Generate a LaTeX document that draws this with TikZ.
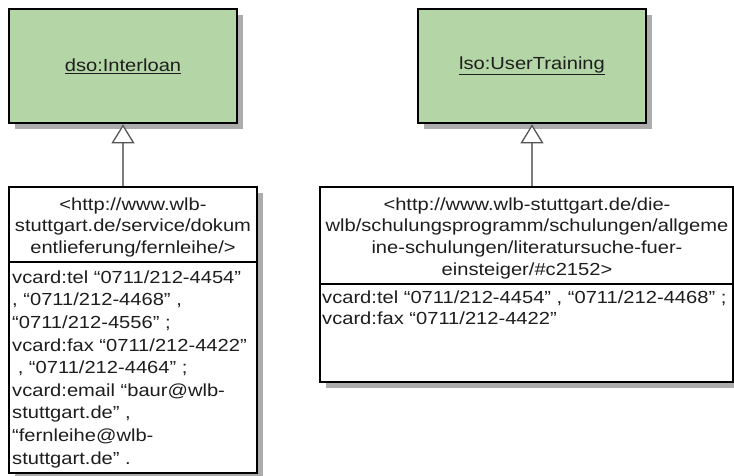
\documentclass[tikz,border=0pt]{standalone}
\usepackage{fontspec}
\setmainfont{Liberation Sans}[FakeStretch=1.15]
\usetikzlibrary{arrows.meta,shadows}

\definecolor{classgreen}{RGB}{180,214,166}
\definecolor{shadowgray}{RGB}{172,172,172}
\definecolor{inktext}{RGB}{30,30,30}
\definecolor{linkgray}{RGB}{125,125,125}
\definecolor{tipgray}{RGB}{85,85,85}

\tikzset{
  boxshadow/.style={drop shadow={shadow xshift=6pt, shadow yshift=-6pt, fill=shadowgray, opacity=1}},
  classbox/.style={draw=black, line width=2.8pt, fill=classgreen, boxshadow,
    inner sep=0pt, text=inktext},
  instbox/.style={draw=black, line width=2.8pt, fill=white, boxshadow, inner sep=0pt},
  sepline/.style={draw=black, line width=2.8pt},
  umltext/.style={font=\fontsize{17.5}{21.6}\selectfont, text=inktext, inner sep=0pt},
  headtext/.style={umltext, align=center, anchor=north},
  bodytext/.style={umltext, align=left, anchor=north west},
  realize/.style={draw=linkgray, line width=1.6pt,
    -{Triangle[open, length=19pt, width=23pt, line width=1.3pt, color=tipgray, fill=white]}},
}

\newcommand{\firstline}{\rule{0pt}{14pt}}

\begin{document}
\begin{tikzpicture}[x=1pt, y=-1pt]
\useasboundingbox (0,0) rectangle (734,476);

% class boxes
\node[classbox, minimum width=228pt, minimum height=114pt] (interloan) at (123,66)
  {\fontsize{17.5}{21.6}\selectfont\underline{dso:Interloan}};
\node[classbox, minimum width=228pt, minimum height=114pt] (training) at (532,66)
  {\fontsize{17.5}{21.6}\selectfont\underline{lso:UserTraining}};

% instance boxes
\node[instbox, minimum width=248pt, minimum height=286pt] (fern) at (133,330) {};
\node[instbox, minimum width=413pt, minimum height=195pt] (schul) at (526.5,284.5) {};

\draw[sepline] (fern.west |- 0,262) -- (fern.east |- 0,262);
\draw[sepline] (schul.west |- 0,284) -- (schul.east |- 0,284);

% texts of the left instance
\node[headtext] (fernhead) at (133,196)
  {\firstline<http://www.wlb-\\stuttgart.de/service/dokum\\entlieferung/fernleihe/>};
\node[bodytext, font=\fontsize{17.5}{22.6}\selectfont] (fernbody) at (12,269)
  {\firstline vcard:tel “0711/212-4454”\\
   , “0711/212-4468” ,\\
   “0711/212-4556” ;\\
   vcard:fax “0711/212-4422”\\
   \ , “0711/212-4464” ;\\
   vcard:email “baur@wlb-\\
   stuttgart.de” ,\\
   “fernleihe@wlb-\\
   stuttgart.de” .};

% texts of the right instance
\node[headtext] (schulhead) at (527,196)
  {\firstline<http://www.wlb-stuttgart.de/die-\\
   wlb/schulungsprogramm/schulungen/allgeme\\
   ine-schulungen/literatursuche-fuer-\\
   einsteiger/\#c2152>};
\node[bodytext, font=\fontsize{17.5}{21}\selectfont] (schulbody) at (322,289)
  {\firstline vcard:tel “0711/212-4454” , “0711/212-4468” ;\\
   vcard:fax “0711/212-4422”};

% realization arrows
\draw[realize] (fern.north -| interloan.south) -- (interloan.south);
\draw[realize] (schul.north -| training.south) -- (training.south);
\end{tikzpicture}
\end{document}
